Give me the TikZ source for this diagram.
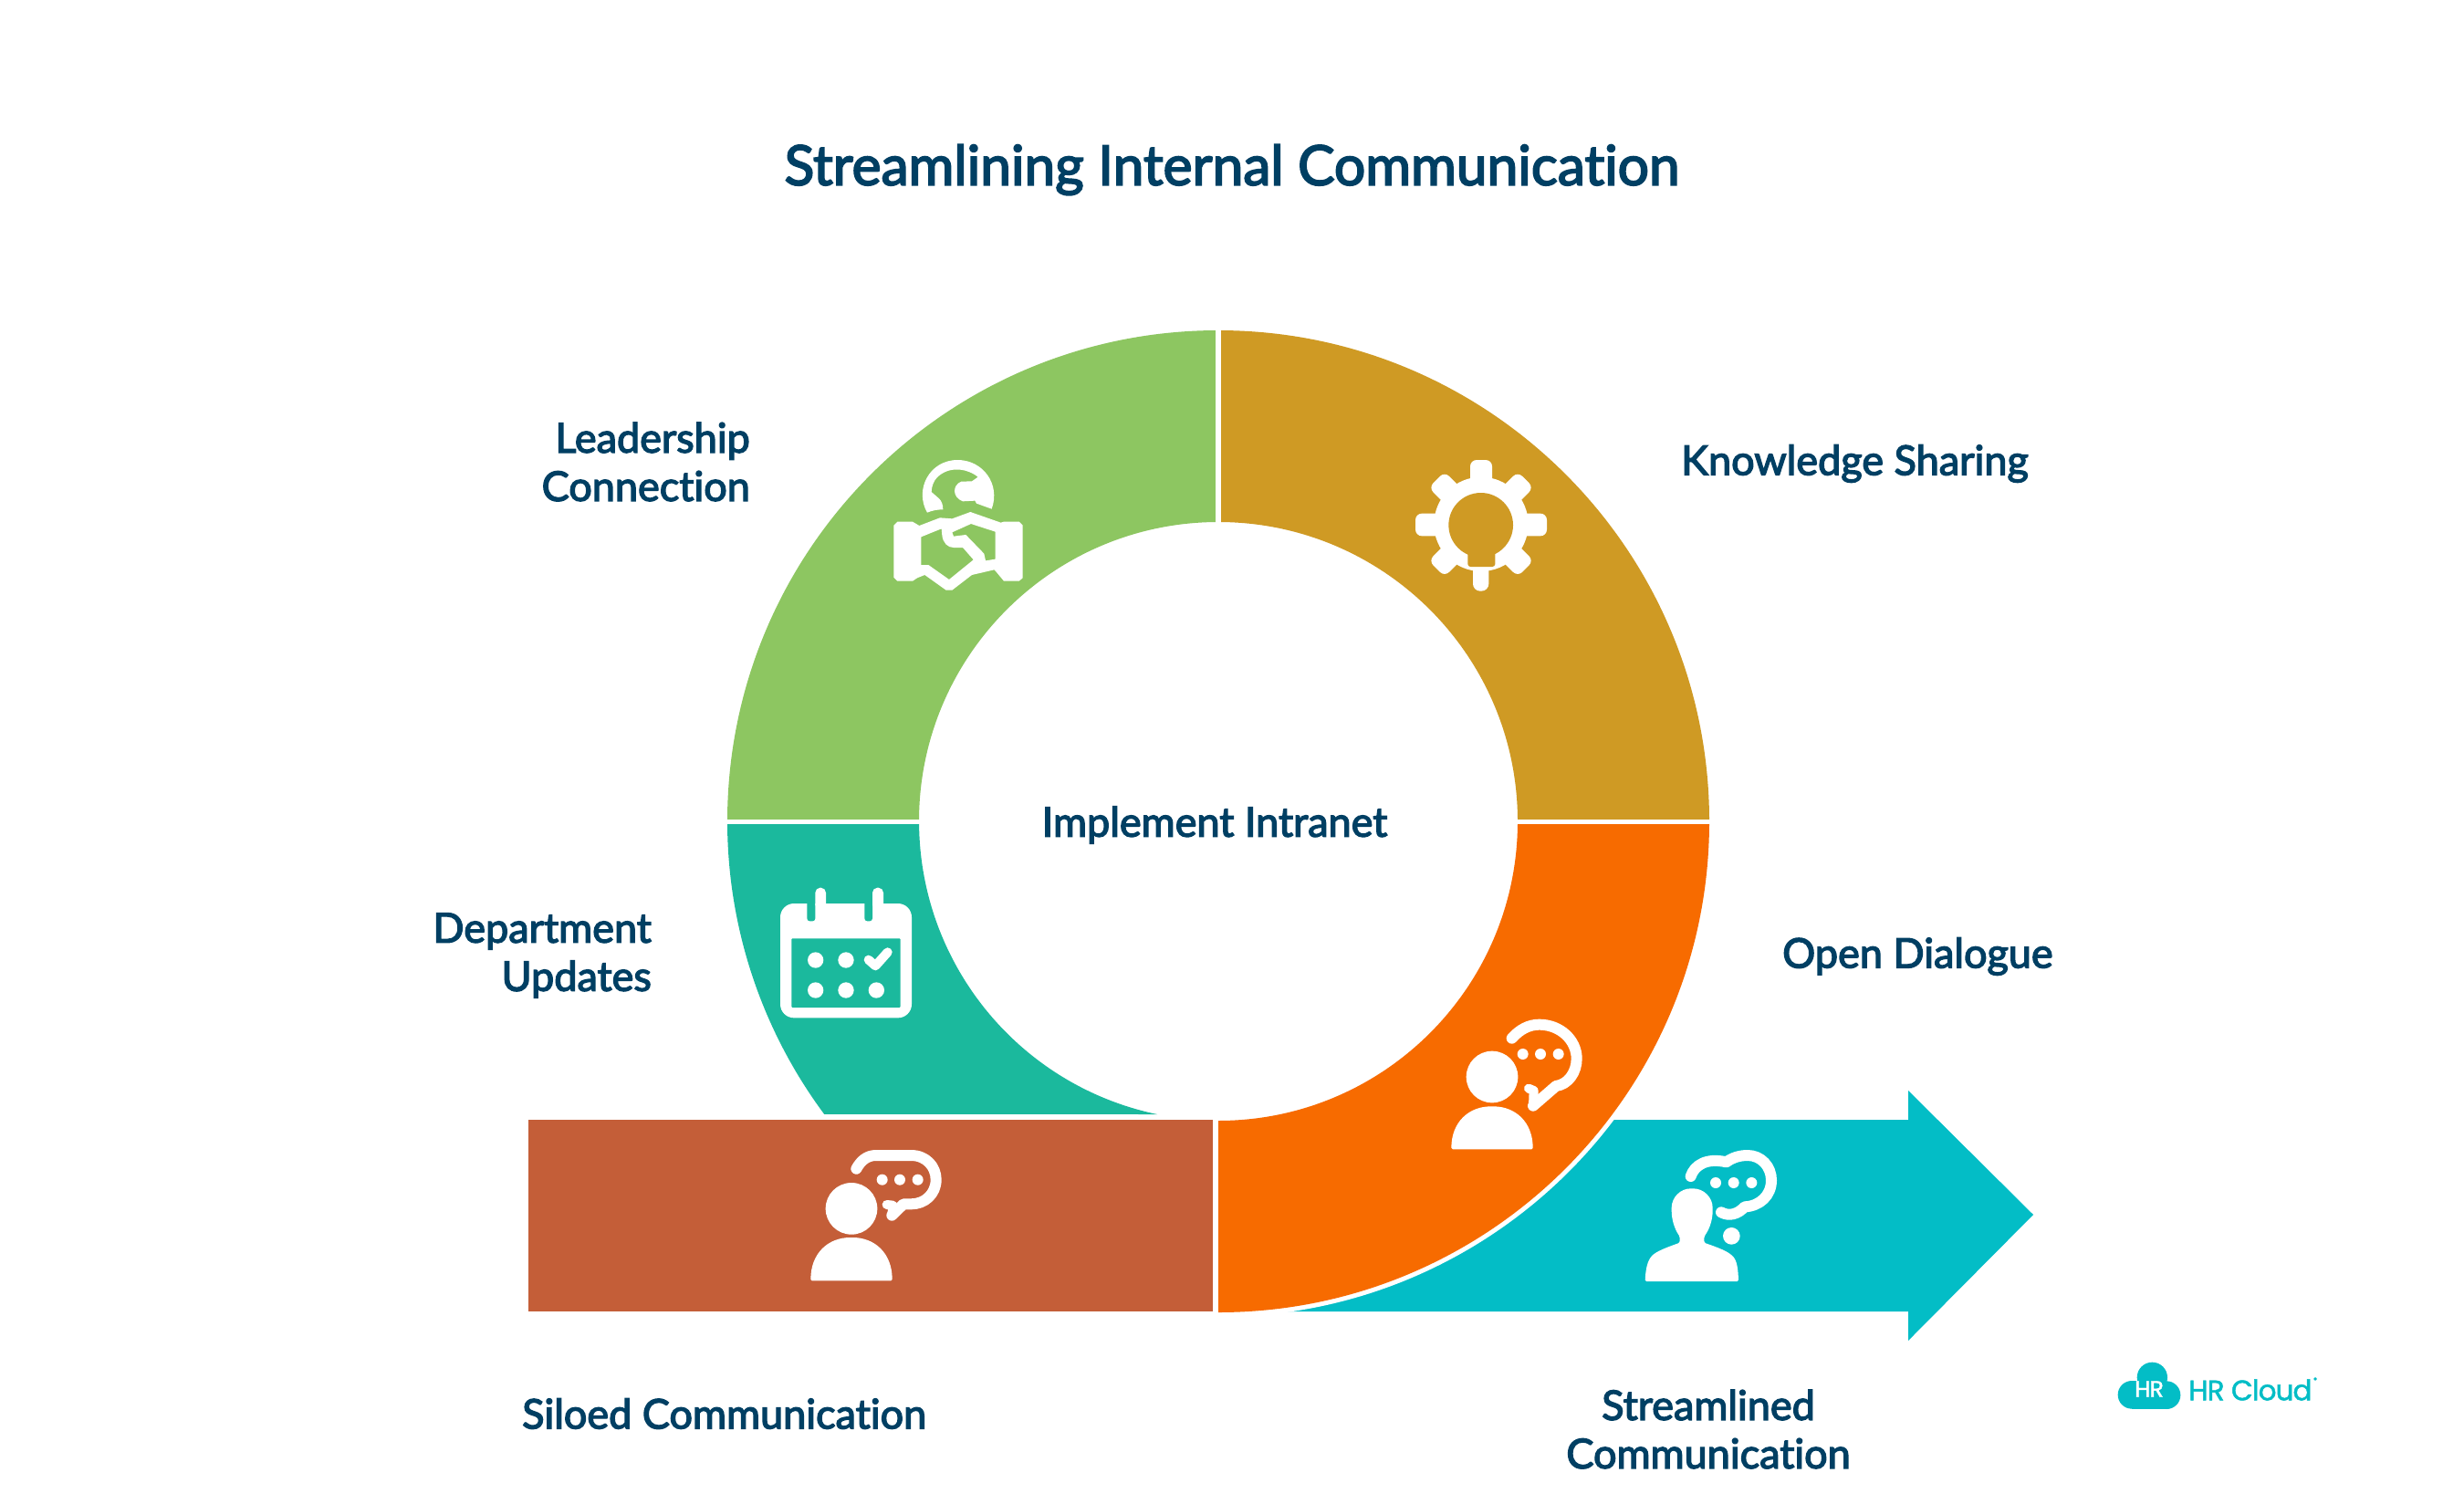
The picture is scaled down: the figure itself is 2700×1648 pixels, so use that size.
\documentclass[tikz,border=0pt]{standalone}
\usepackage{fontspec}
\newfontfamily\labelfont{Lato}[FakeBold=3,Ligatures=NoCommon]
\newfontfamily\logofont{Poppins}[FakeBold=1.5,LetterSpace=-3]
\definecolor{inkblue}{HTML}{003F63}
\definecolor{cgreen}{HTML}{8DC661}
\definecolor{cgold}{HTML}{CF9A24}
\definecolor{cteal}{HTML}{1BB99D}
\definecolor{corange}{HTML}{F76B00}
\definecolor{cbrick}{HTML}{C45E38}
\definecolor{ccyan}{HTML}{03BDC6}
\tikzset{
  lbl/.style={text=inkblue,inner sep=0pt,font=\labelfont\fontsize{45}{53}\selectfont},
  ttl/.style={text=inkblue,inner sep=0pt,font=\labelfont\fontsize{60.5}{70}\selectfont},
  bubble/.style={draw=white,line width=12pt,line cap=round,line join=round},
  tail/.style={draw=white,line width=10pt,line cap=round,line join=round},
  zoomed/.style={scale=1/3},
}
\newcommand{\person}[5]{% cx, head y, head r, body top, body bottom
  \fill[white] (#1,#2) circle (#3);
  \fill[white,rounded corners=1.5pt] ({#1-134},#5) .. controls ({#1-134},{#4+50}) and ({#1-75},#4) .. (#1,#4) .. controls ({#1+75},#4) and ({#1+134},{#4+50}) .. ({#1+134},#5) -- cycle;
}
\begin{document}
\begin{tikzpicture}[x=1pt,y=1pt,yscale=-1]
\useasboundingbox (0,0) rectangle (2700,1648);
\fill[white] (0,0) rectangle (2700,1648);
% arrow
\fill[ccyan] (1340,1227) -- (2091,1227) -- (2091,1195) -- (2228,1331) -- (2091,1469) -- (2091,1437) -- (1340,1437) -- cycle;
% ring
\fill[white] (1335,900) -- (1878,900) arc (0:90:543) -- cycle;
\fill[cgold] (1335,362) arc (270:360:538) -- (1663,900) arc (360:270:328) -- cycle;
\fill[cgreen] (797,900) arc (180:270:538) -- (1335,572) arc (270:180:328) -- cycle;
\fill[corange] (1873,900) arc (0:90:538) -- (1335,1228) arc (90:0:328) -- cycle;
\fill[cteal] (797,900) arc (180:143.4:538) -- (1268,1221) arc (101.8:180:328) -- cycle;
\draw[white,line width=6pt] (1335,360) -- (1335,574);
\draw[white,line width=5pt] (795,900) -- (1009,900);
\draw[white,line width=5pt] (1661,900) -- (1875,900);
% brick bar
\fill[cbrick] (579,1227) rectangle (1329,1437);
% handshake
\begin{scope}[shift={(930,460)},zoomed]
\fill[white] (258,305) .. controls (215,230) and (265,132) .. (358,132) .. controls (440,132) and (500,210) .. (470,293) -- (420,275) -- (415,266) -- (375,268) .. controls (340,255) and (340,215) .. (370,203) -- (405,202) -- (425,188) .. controls (390,160) and (330,150) .. (290,190) .. controls (280,200) and (272,220) .. (272,237) .. controls (290,255) and (310,260) .. (310,295) .. controls (290,295) and (275,298) .. (258,305) -- cycle;
\fill[white,even odd rule]
 (160,335) -- (210,335) -- (232,348) -- (300,322) -- (340,325) -- (400,303) -- (500,338) -- (510,335) -- (560,335) -- (572,347) -- (572,520) -- (560,530) -- (510,530) -- (485,500) -- (478,493) -- (405,510) -- (340,560) -- (320,560) -- (250,510) -- (225,520) -- (210,530) -- (160,530) -- (148,518) -- (148,347) -- cycle
 (238,385) -- (305,358) -- (307,380) .. controls (310,405) and (325,420) .. (345,420) -- (375,420) -- (410,460) -- (330,525) -- (262,477) -- (238,477) -- cycle
 (340,370) -- (402,342) -- (482,368) -- (482,458) -- (450,463) -- (445,440) -- (385,378) -- (345,383) -- cycle;
\end{scope}
% gear with bulb
\begin{scope}[shift={(1520,480)},zoomed]
\fill[white] (309,283) circle (155);
\fill[white,rounded corners=7pt] (273,72) rectangle (345,200);
\fill[white,rounded corners=7pt] (93,248) rectangle (200,322);
\fill[white,rounded corners=7pt] (420,248) rectangle (525,322);
\foreach \a in {45,135,225,315}
  \fill[white,rounded corners=7pt,rotate around={\a:(309,283)}] (272,76) rectangle (346,200);
\fill[white,rounded corners=8pt] (282,400) rectangle (334,503);
\fill[cgold] (308,286) circle (106);
\fill[cgold,rounded corners=3pt] (265,340) rectangle (355,423);
\end{scope}
% calendar
\begin{scope}[shift={(830,950)},zoomed]
\fill[white,rounded corners=15pt] (75,120) rectangle (507,496);
\fill[cteal,rounded corners=3pt] (163,100) rectangle (190,178);
\fill[cteal,rounded corners=3pt] (352,100) rectangle (378,178);
\fill[cteal] (163,90) rectangle (190,120);
\fill[cteal] (352,90) rectangle (378,120);
\fill[white,rounded corners=5.5pt] (190,68) rectangle (225,140);
\fill[white,rounded corners=5.5pt] (378,68) rectangle (414,140);
\fill[cteal,rounded corners=1pt] (112,235) rectangle (470,462);
\foreach \p in {(191,306),(291,306),(191,405),(291,405),(391,405)}
  \fill[white] \p circle (26);
\draw[white,line width=10pt,line cap=round,line join=round] (365,305) -- (388,325) -- (428,280);
\end{scope}
% brick person
\begin{scope}[shift={(860,1240)},zoomed]
\person{219}{253}{85}{348}{490}
\draw[bubble] (235,122) .. controls (250,95) and (270,78) .. (300,78) -- (415,78) .. controls (465,78) and (497,115) .. (497,158) .. controls (497,205) and (460,238) .. (415,238) -- (390,238) -- (352,275);
\draw[tail] (335,240) -- (355,242) -- (352,275);
\foreach \p in {(320,158),(378,158),(437,158)} \fill[white] \p circle (18);
\end{scope}
% orange person
\begin{scope}[shift={(1570,1100)},zoomed]
\person{195}{240}{85}{337}{478}
\draw[bubble] (260,113) .. controls (285,85) and (315,68) .. (350,68) .. controls (420,68) and (473,120) .. (473,180) .. controls (473,225) and (445,265) .. (405,270) -- (330,335);
\draw[tail] (315,278) -- (332,285) -- (330,335);
\foreach \p in {(296,165),(354,165),(413,165)} \fill[white] \p circle (18);
\end{scope}
% cyan person
\begin{scope}[shift={(1780,1240)},zoomed]
\fill[white,rounded corners=1.5pt] (68,492) -- (375,492) .. controls (373,430) and (365,415) .. (345,400) .. controls (320,385) and (290,375) .. (262,365) -- (262,345) .. controls (280,320) and (290,290) .. (290,255) .. controls (290,215) and (260,187) .. (222,187) .. controls (185,187) and (155,215) .. (155,255) .. controls (155,290) and (165,320) .. (182,345) -- (182,365) .. controls (155,375) and (125,385) .. (100,400) .. controls (80,415) and (70,440) .. (68,492) -- cycle;
\draw[bubble] (218,147) .. controls (230,110) and (270,85) .. (335,100) .. controls (355,85) and (380,78) .. (405,78) .. controls (450,78) and (483,115) .. (483,160) .. controls (483,210) and (445,245) .. (395,247) .. controls (375,270) and (345,280) .. (318,265);
\foreach \p in {(300,168),(359,168),(418,168)} \fill[white] \p circle (18);
\fill[white] (352,343) circle (28);
\end{scope}
% logo
\begin{scope}[shift={(2300,1470)},zoomed]
\fill[ccyan] (175,118) circle (50);
\fill[ccyan] (108,175) circle (46);
\fill[ccyan] (222,176) circle (46);
\fill[ccyan] (108,130) rectangle (222,222);
\end{scope}
\node[inner sep=0pt,text=white,font=\logofont\fontsize{25}{25}\selectfont] (logoHR) at (2355,1522) {HR};
\node[inner sep=0pt,text=ccyan,anchor=west,font=\logofont\fontsize{31}{31}\selectfont] (logoName) at (2398,1523) {HR Cloud};
\node[inner sep=0pt,text=ccyan,font=\logofont\fontsize{7}{7}\selectfont] (logoReg) at (2537,1512) {®};
% labels
\node[ttl] (title) at (1350,186) {Streamlining Internal Communication};
\node[lbl,align=right,anchor=east] (leader) at (822,506) {Leadership\\Connection};
\node[lbl,anchor=west] (knowledge) at (1842,508) {Knowledge Sharing};
\node[lbl,align=right,anchor=east] (dept) at (714,1047) {Department\\Updates};
\node[lbl,anchor=west] (dialogue) at (1953,1048) {Open Dialogue};
\node[lbl] (center) at (1331,904) {Implement Intranet};
\node[lbl,anchor=west] (siloed) at (572,1549) {Siloed Communication};
\node[lbl,align=center] (stream) at (1872,1566) {Streamlined\\Communication};
\end{tikzpicture}
\end{document}
